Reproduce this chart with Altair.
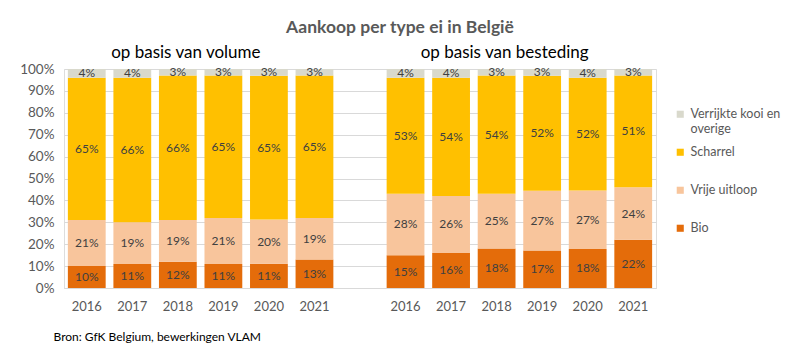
import altair as alt
import pandas as pd

years = ["2016", "2017", "2018", "2019", "2020", "2021"]
categories = ["Bio", "Vrije uitloop", "Scharrel", "Verrijkte kooi en overige"]
colors = ["#E46C0A", "#F8C59C", "#FFC000", "#D9D9CC"]

# volume shares (Bio, Vrije uitloop, Scharrel, Verrijkte kooi en overige)
vol_bio = [10, 11, 12, 11, 11, 13]
vol_vrij = [21, 19, 19, 21, 20, 19]
vol_scharrel = [65, 66, 66, 65, 65, 65]
vol_kooi = [4, 4, 3, 3, 3, 3]

# spending shares
bes_bio = [15, 16, 18, 17, 18, 22]
bes_vrij = [28, 26, 25, 27, 27, 24]
bes_scharrel = [53, 54, 54, 52, 52, 51]
bes_kooi = [4, 4, 3, 3, 4, 3]

panel_titles = ["op basis van volume", "op basis van besteding"]
y_ticks = [0, 0.1, 0.2, 0.3, 0.4, 0.5, 0.6, 0.7, 0.8, 0.9, 1.0]

rows = []
for prefix, series in [("V", [vol_bio, vol_vrij, vol_scharrel, vol_kooi]),
                       ("B", [bes_bio, bes_vrij, bes_scharrel, bes_kooi])]:
    for i, y in enumerate(years):
        for k, cat in enumerate(categories):
            rows.append({"slot": prefix + y, "cat": cat, "order": k, "value": series[k][i]})
df = pd.DataFrame(rows)

slots = ["V" + y for y in years] + ["gap"] + ["B" + y for y in years]

font = "Lato"
grey = "#595959"

x_axis = alt.Axis(
    title="Bron: GfK Belgium, bewerkingen VLAM",
    titleAnchor="start", titleX=-11, titleY=43, titleFont=font,
    titleFontSize=12, titleFontWeight="normal", titleColor="#000000",
    labelExpr="datum.value == 'gap' ? '' : substring(datum.value, 1)",
    labelAngle=0, labelFont=font, labelFontSize=13, labelColor=grey,
    labelPadding=12, ticks=False, domain=True, domainColor="#D9D9D9",
)
y_axis = alt.Axis(
    format=".0%", values=y_ticks, title=None,
    labelFont=font, labelFontSize=13.5, labelColor=grey, labelPadding=10,
    labelOverlap=False, ticks=False, domain=False, gridColor="#D9D9D9",
)
x_scale = alt.Scale(domain=slots, paddingInner=0.17, paddingOuter=0.085)
y_scale = alt.Scale(domain=[0, 1], nice=False)

base = alt.Chart(df).transform_joinaggregate(
    total="sum(value)", groupby=["slot"]
).transform_window(
    cum="sum(value)", sort=[alt.SortField("order")], groupby=["slot"],
    frame=[None, 0]
).transform_calculate(
    y0="(datum.cum - datum.value) / datum.total",
    y1="datum.cum / datum.total",
    mid="(datum.cum - datum.value / 2) / datum.total",
    lab="datum.value + '%'",
)

bars = base.mark_bar().encode(
    x=alt.X("slot:N", scale=x_scale, axis=x_axis),
    y=alt.Y("y0:Q", scale=y_scale, axis=y_axis),
    y2="y1:Q",
    color=alt.Color(
        "cat:N",
        scale=alt.Scale(domain=categories, range=colors),
        sort=categories[::-1],
        legend=alt.Legend(
            title=None, orient="none", legendX=610, legendY=39,
            symbolType="square", symbolSize=50, symbolStrokeWidth=0,
            labelFont=font, labelFontSize=12.5, labelColor=grey,
            labelOffset=4, rowPadding=10, labelLimit=200,
            values=categories[::-1],
            labelExpr="datum.label == 'Verrijkte kooi en overige' ? ['Verrijkte kooi en', 'overige'] : [datum.label, ' ']",
        ),
    ),
)

texts = base.mark_text(font=font, fontSize=12, color="#404040").encode(
    x=alt.X("slot:N", scale=x_scale, axis=x_axis),
    y=alt.Y("mid:Q", scale=y_scale, axis=y_axis),
    text="lab:N",
)

sub_df = pd.DataFrame({"title": panel_titles, "slot": ["V2018", "B2018"]})
subs = alt.Chart(sub_df).mark_text(
    font=font, fontSize=17, color="#000000", dx=8, baseline="alphabetic"
).encode(
    x=alt.X("slot:N", scale=x_scale, axis=x_axis),
    y=alt.value(-11),
    text="title:N",
)

chart = alt.layer(bars, texts, subs).properties(
    width=592, height=219,
    padding={"left": 64, "top": 69, "right": 144, "bottom": 62},
    autosize=alt.AutoSizeParams(type="none"),
    title=alt.TitleParams(
        "Aankoop per type ei in België", font=font, fontSize=17.5,
        fontWeight="bold", color=grey, anchor="middle", dx=40, offset=8,
    ),
).configure_view(stroke=None).configure(background="white")

chart.save("out.html", embed_options={"renderer": "svg", "actions": False})
